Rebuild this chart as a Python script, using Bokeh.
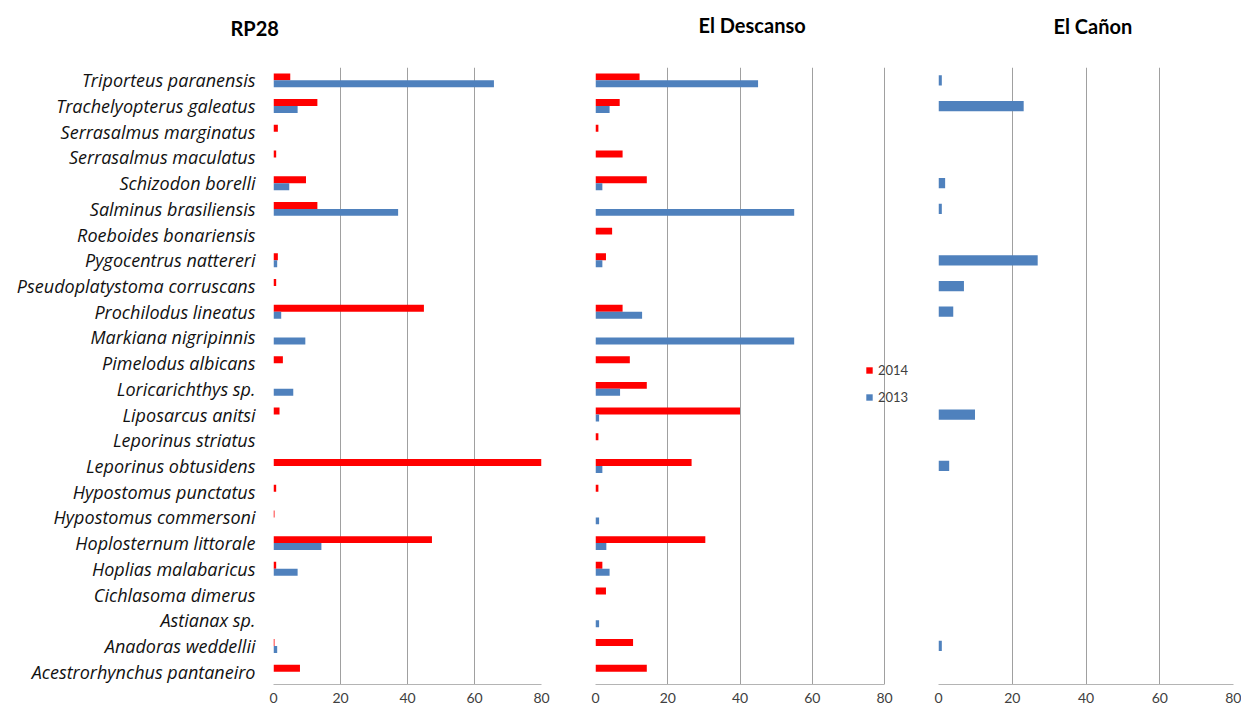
from bokeh.plotting import figure
from bokeh.layouts import row
from bokeh.models import Range1d, FactorRange, FixedTicker, ColumnDataSource, Title
from bokeh.transform import dodge
from bokeh.embed import file_html
from bokeh.resources import INLINE

# ---------------- data (top-to-bottom order as shown) ----------------
species = [
    "Triporteus paranensis",
    "Trachelyopterus galeatus",
    "Serrasalmus marginatus",
    "Serrasalmus maculatus",
    "Schizodon borelli",
    "Salminus brasiliensis",
    "Roeboides bonariensis",
    "Pygocentrus nattereri",
    "Pseudoplatystoma corruscans",
    "Prochilodus lineatus",
    "Markiana nigripinnis",
    "Pimelodus albicans",
    "Loricarichthys sp.",
    "Liposarcus anitsi",
    "Leporinus striatus",
    "Leporinus obtusidens",
    "Hypostomus punctatus",
    "Hypostomus commersoni",
    "Hoplosternum littorale",
    "Hoplias malabaricus",
    "Cichlasoma dimerus",
    "Astianax sp.",
    "Anadoras weddellii",
    "Acestrorhynchus pantaneiro",
]

rp28_2014 = [5.0, 13.1, 1.3, 0.8, 9.7, 13.1, 0, 1.3, 0.8, 44.9, 0, 2.8,
             0, 1.8, 0, 80.0, 0.8, 0.3, 47.3, 0.8, 0, 0, 0.3, 7.9]
rp28_2013 = [65.8, 7.2, 0, 0, 4.7, 37.2, 0, 1.1, 0, 2.3, 9.5, 0,
             5.9, 0, 0, 0, 0, 0, 14.3, 7.2, 0, 0, 1.1, 0]

desc_2014 = [12.2, 6.7, 0.8, 7.5, 14.2, 0, 4.6, 2.9, 0, 7.5, 0, 9.5,
             14.2, 40.0, 0.8, 26.6, 0.8, 0, 30.4, 1.9, 2.9, 0, 10.4, 14.2]
desc_2013 = [45.0, 3.9, 0, 0, 1.9, 55.0, 0, 1.9, 0, 12.9, 55.0, 0,
             6.8, 1.0, 0, 1.9, 0, 1.0, 3.0, 3.9, 0, 1.0, 0, 0]

canon_2013 = [0.9, 23.1, 0, 0, 1.8, 0.9, 0, 26.9, 6.9, 4.0, 0, 0,
              0, 9.9, 0, 2.9, 0, 0, 0, 0, 0, 0, 0.9, 0]

sites = ["RP28", "El Descanso", "El Cañon"]
years = ["2014", "2013"]
x_ticks = [0, 20, 40, 60, 80]
x_max = 80

# ---------------- style ----------------
FONT = "Lato"
LABEL_FONT = "Open Sans"
RED = "#FF0000"
BLUE = "#4F81BD"
GRID = "#a0a0a0"
TOP = 67
FH = 617
BOTTOM = 26


def make_fig(fw, bl, br, with_labels, x_end=x_max):
    p = figure(
        y_range=FactorRange(factors=species[::-1]),
        x_range=Range1d(0, x_end),
        frame_width=fw, frame_height=FH,
        min_border_left=bl, min_border_right=br,
        min_border_top=TOP, min_border_bottom=BOTTOM,
        output_backend="svg", toolbar_location=None,
        y_axis_location="left" if with_labels else None,
        outline_line_color=None,
        background_fill_color="white", border_fill_color="white",
    )
    p.xaxis.ticker = FixedTicker(ticks=x_ticks)
    p.xaxis.bounds = (0, x_max)
    p.xgrid.ticker = FixedTicker(ticks=x_ticks)
    p.xgrid.grid_line_color = GRID
    p.ygrid.visible = False
    p.xaxis.axis_line_color = "#b4b4b4"
    p.xaxis.axis_line_width = 1
    p.xaxis.major_tick_line_color = None
    p.xaxis.minor_tick_line_color = None
    p.xaxis.major_tick_out = 0
    p.xaxis.major_label_standoff = 8
    p.xaxis.major_label_text_font = FONT
    p.xaxis.major_label_text_font_size = "14px"
    p.xaxis.major_label_text_color = "#404040"
    if with_labels:
        p.yaxis.axis_line_color = None
        p.yaxis.major_tick_line_color = None
        p.yaxis.minor_tick_line_color = None
        p.yaxis.major_tick_out = 0
        p.yaxis.major_label_standoff = 18
        p.yaxis.major_label_text_font = LABEL_FONT
        p.yaxis.major_label_text_font_style = "italic"
        p.yaxis.major_label_text_font_size = "18px"
        p.yaxis.major_label_text_color = "#111111"
    return p


def add_title(p, text, offset, standoff):
    # trailing line break lifts the title well above the plot area
    p.title = Title(text=text + "\n", align="left", offset=offset, standoff=standoff,
                    vertical_align="bottom", text_font=FONT, text_font_style="bold",
                    text_font_size="20px", text_color="#000000")


# Panel 1: RP28
p1 = make_fig(268, 273, 27, True)
s1 = ColumnDataSource(dict(species=species, a=rp28_2014, b=rp28_2013))
p1.hbar(y=dodge("species", 0.135, range=p1.y_range), left=0, right="a", height=0.27,
        fill_color=RED, line_color=None, source=s1)
p1.hbar(y=dodge("species", -0.135, range=p1.y_range), left=0, right="b", height=0.27,
        fill_color=BLUE, line_color=None, source=s1)
add_title(p1, sites[0], -43, 8)

# Panel 2: El Descanso (frame extends a little past 80 so the legend fits)
p2 = make_fig(316, 27, 0, False, x_end=x_max * 316 / 289)
s2 = ColumnDataSource(dict(species=species, a=desc_2014, b=desc_2013))
p2.hbar(y=dodge("species", 0.135, range=p2.y_range), left=0, right="a", height=0.27,
        fill_color=RED, line_color=None, source=s2, legend_label=years[0])
p2.hbar(y=dodge("species", -0.135, range=p2.y_range), left=0, right="b", height=0.27,
        fill_color=BLUE, line_color=None, source=s2, legend_label=years[1])
add_title(p2, sites[1], 103, 14)
lg = p2.legend[0]
lg.location = (270, 279)
lg.margin = 0
lg.padding = 0
lg.spacing = 11
lg.glyph_width = 8
lg.glyph_height = 8
lg.label_height = 14
lg.label_standoff = 5
lg.label_text_font = FONT
lg.label_text_font_size = "13px"
lg.label_text_color = "#404040"
lg.background_fill_alpha = 0
lg.border_line_color = None

# Panel 3: El Cañon
p3 = make_fig(295, 27, 8, False)
s3 = ColumnDataSource(dict(species=species, b=canon_2013))
p3.hbar(y="species", left=0, right="b", height=0.4,
        fill_color=BLUE, line_color=None, source=s3)
add_title(p3, sites[2], 115, 12)

layout = row(p1, p2, p3)
open("out.html", "w").write(file_html(layout, INLINE))
